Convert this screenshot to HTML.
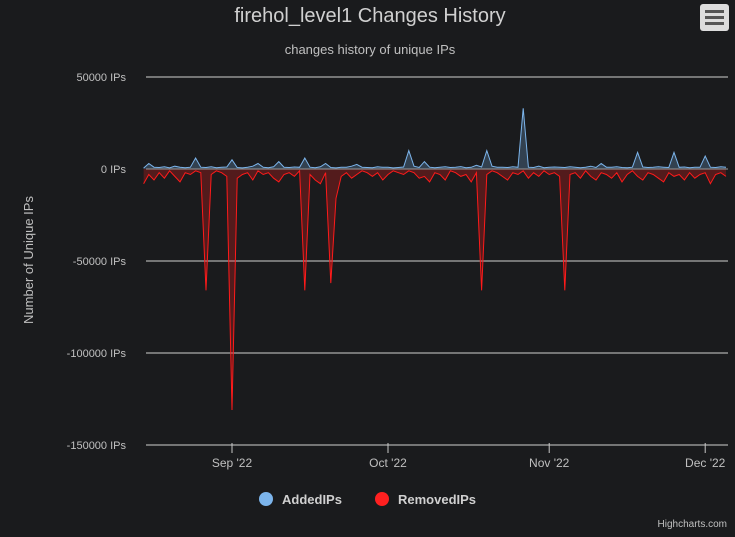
<!DOCTYPE html>
<html><head><meta charset="utf-8"><style>
html,body{margin:0;padding:0;background:#1a1b1d;}
svg{display:block;font-family:"Liberation Sans","DejaVu Sans",sans-serif;}
</style></head><body>
<svg id="chart" width="735" height="537">
<rect width="735" height="537" fill="#1a1b1d"/>
<text x="370" y="22" text-anchor="middle" font-size="20" fill="#d0d0d0">firehol_level1 Changes History</text>
<text x="370" y="54" text-anchor="middle" font-size="13" fill="#c0c0c0">changes history of unique IPs</text>
<g>
<rect x="700" y="4" width="29" height="27" rx="3" fill="#dcdcdc"/>
<rect x="705" y="10" width="19" height="3" fill="#555"/><rect x="705" y="16" width="19" height="3" fill="#555"/><rect x="705" y="22" width="19" height="3" fill="#555"/>
</g>
<text transform="translate(33,260) rotate(-90)" text-anchor="middle" font-size="13" fill="#c0c0c0">Number of Unique IPs</text>
<g id="grid"></g><g id="series"></g><g id="xaxis"></g>
<g>
<g><circle cx="266" cy="499" r="7" fill="#7cb5ec"/><text x="282" y="504" font-size="13" font-weight="bold" fill="#d0d0d0">AddedIPs</text></g>
<g><circle cx="382" cy="499" r="7" fill="#ff2020"/><text x="398" y="504" font-size="13" font-weight="bold" fill="#d0d0d0">RemovedIPs</text></g>
</g>
<text x="727" y="527" text-anchor="end" font-size="10" fill="#c0c0c0">Highcharts.com</text>
</svg>
<script>
const yTicks=[50000,0,-50000,-100000,-150000];
const yTickLabels=["50000 IPs","0 IPs","-50000 IPs","-100000 IPs","-150000 IPs"];
const xTickLabels=["Sep '22","Oct '22","Nov '22","Dec '22"];
const xTickDays=[17,47,78,108];
const removedIPs=[-8000,-3000,-6000,-2000,-5000,-1000,-4000,-7000,-2000,-3000,
-1000,-2000,-66000,-3000,-1000,-2000,-4000,-131000,-5000,-3000,
-2000,-6000,-1000,-3000,-2000,-5000,-7000,-3000,-2000,-4000,
-1000,-66000,-3000,-6000,-8000,-2000,-62000,-16000,-4000,-2000,
-5000,-3000,-1000,-2000,-4000,-2000,-6000,-3000,-1000,-2000,
-3000,-1000,-2000,-5000,-4000,-7000,-2000,-3000,-6000,-1000,
-2000,-4000,-3000,-7000,-2000,-66000,-3000,-1000,-2000,-4000,
-6000,-2000,-3000,-1000,-5000,-2000,-4000,-1000,-3000,-2000,
-4000,-66000,-3000,-2000,-5000,-1000,-4000,-6000,-2000,-3000,
-5000,-2000,-7000,-3000,-1000,-4000,-6000,-2000,-3000,-5000,
-7000,-2000,-4000,-3000,-6000,-2000,-5000,-3000,-2000,-8000,
-3000,-2000,-4000];
const addedIPs=[500,3000,1000,800,1200,600,1500,900,700,1000,
6000,1000,800,1200,700,900,1100,5000,800,600,
1000,1500,3000,900,700,1200,4000,1000,800,1100,
900,6000,1000,700,1200,3000,800,600,1000,900,
1500,2500,1000,800,700,1200,900,1000,600,800,
1100,10000,1500,800,4000,1000,700,900,1200,800,
1000,1300,700,900,2000,1100,10000,1500,900,1000,
800,1200,900,33000,1000,800,1500,700,900,1100,
1000,800,1200,900,700,1000,1500,800,3000,1000,
900,1200,800,700,1000,9000,1100,800,900,1200,
1000,800,9000,900,1100,700,1000,900,7000,1000,
800,1200,900];
const NS="http://www.w3.org/2000/svg";
const L=146,R=728,dayPx=5.2,x0=232-17*dayPx;
const xs=d=>x0+d*dayPx;
const ys=v=>169-v*(92/50000);
function mk(t,a,p){const e=document.createElementNS(NS,t);for(const k in a)e.setAttribute(k,a[k]);p.appendChild(e);return e;}
const grid=document.getElementById('grid');
yTicks.forEach((v,i)=>{
 const l=mk('line',{x1:L,x2:R,y1:ys(v),y2:ys(v),stroke:'#d0d0d0','stroke-width':1},grid);
 
 
 const t=mk('text',{x:126,y:ys(v)+4,'text-anchor':'end','font-size':11,fill:'#c0c0c0'},grid);
 t.textContent=yTickLabels[i];
 
 
});
const xa=document.getElementById('xaxis');
xTickDays.forEach((d,i)=>{
 const l=mk('line',{x1:xs(d),x2:xs(d),y1:443,y2:453,stroke:'#c8c8c8'},xa);
 
 
 const t=mk('text',{x:xs(d),y:467,'text-anchor':'middle','font-size':12,fill:'#c0c0c0'},xa);
 t.textContent=xTickLabels[i];
 
 
});
const sg=document.getElementById('series');
function draw(vals,color,name){
 let pts=vals.map((v,i)=>xs(i).toFixed(1)+','+ys(v).toFixed(1));
 const area=mk('path',{d:'M'+xs(0)+','+ys(0)+' L'+pts.join(' L')+' L'+xs(vals.length-1)+','+ys(0)+'Z',fill:color,'fill-opacity':0.25,stroke:'none'},sg);
 
 
 const ln=mk('path',{d:'M'+pts.join(' L'),fill:'none',stroke:color,'stroke-width':1,'stroke-linejoin':'miter'},sg);
 
 
}
draw(removedIPs,'#ff1a1a','removed-ips');
draw(addedIPs,'#7cb5ec','added-ips');
const z=mk('line',{x1:L,x2:R,y1:ys(0),y2:ys(0),stroke:'#999','stroke-width':1},sg);


</script>
</body></html>
